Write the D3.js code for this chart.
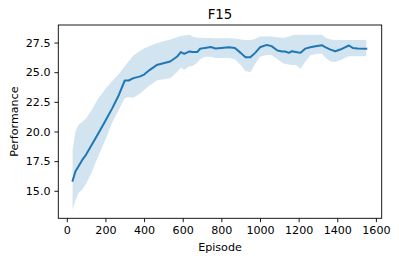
<!DOCTYPE html>
<html><head><meta charset="utf-8">
<script src="https://cdn.jsdelivr.net/npm/d3@7"></script>
<style>body{margin:0;background:#fff}svg{display:block}</style>
</head><body>
<svg id="chart" width="399" height="262"></svg>
<script>
const episodes = [30,45,60,80,100,130,160,200,235,270,300,320,345,380,400,430,465,500,535,570,590,608,635,650,675,690,715,745,770,800,840,870,900,925,950,975,1000,1035,1060,1090,1115,1130,1150,1165,1185,1210,1235,1260,1295,1320,1340,1365,1390,1415,1440,1460,1480,1505,1550];
const meanPerf = [15.85,16.65,17.05,17.6,18.05,18.9,19.75,20.9,21.95,23.1,24.3,24.3,24.5,24.65,24.8,25.2,25.6,25.75,25.9,26.3,26.7,26.55,26.75,26.7,26.7,26.98,27.05,27.12,27.0,27.05,27.1,27.05,26.63,26.26,26.26,26.63,27.1,27.3,27.2,26.83,26.75,26.75,26.63,26.77,26.71,26.63,26.99,27.1,27.2,27.28,27.1,26.9,26.77,26.91,27.1,27.25,27.05,26.99,26.97];
const lowerPerf = [13.4,14.2,14.8,15.1,15.6,16.6,17.8,19.3,20.75,21.85,22.8,22.9,22.85,23.2,23.5,23.9,24.3,24.4,24.5,25.0,25.4,25.2,25.5,25.5,25.8,26.1,26.3,26.3,26.2,26.2,26.2,26.1,25.6,25.1,25.0,25.7,26.3,26.45,26.45,26.1,25.8,25.7,25.65,25.6,25.6,25.3,25.9,26.4,26.55,26.55,26.2,25.9,25.85,26.0,26.2,26.35,26.35,26.35,26.35];
const upperPerf = [18.4,20.0,20.55,20.8,21.1,21.85,22.7,23.6,24.25,24.85,25.5,25.9,26.4,26.8,27.0,27.2,27.45,27.6,27.75,27.95,28.05,28.1,28.15,28.0,27.9,27.9,27.88,27.88,27.87,27.87,27.87,27.85,27.75,27.72,27.72,27.8,28.0,28.0,28.0,27.95,27.9,27.9,28.0,28.1,28.15,28.15,28.15,28.15,28.15,28.15,27.9,27.75,27.72,27.72,27.72,27.72,27.72,27.72,27.72];
const xTicks = [0,200,400,600,800,1000,1200,1400,1600];
const yTicks = [15.0,17.5,20.0,22.5,25.0,27.5];
const title = "F15", xLabel = "Episode", yLabel = "Performance";

const data = episodes.map((e,i)=>({x:e, m:meanPerf[i], lo:lowerPerf[i], hi:upperPerf[i]}));
const svg = d3.select("#chart");
const L = 58.3, R = 381.7, T = 25, B = 218.3;
const x = d3.scaleLinear().domain([-44, 1630]).range([L, R]);
const y = d3.scaleLinear().domain([12.68, 28.98]).range([B, T]);
const font = "DejaVu Sans, sans-serif";

svg.append("path").datum(data)
  .attr("d", d3.area().x(d=>x(d.x)).y0(d=>y(d.lo)).y1(d=>y(d.hi)))
  .attr("fill", "#1f77b4").attr("fill-opacity", 0.2);
svg.append("path").datum(data)
  .attr("d", d3.line().x(d=>x(d.x)).y(d=>y(d.m)))
  .attr("fill", "none").attr("stroke", "#1f77b4").attr("stroke-width", 2).attr("stroke-linejoin","round").attr("stroke-linecap","square");

const xa = svg.append("g").attr("transform", `translate(0,${B})`)
  .call(d3.axisBottom(x).tickValues(xTicks).tickSize(3.9).tickPadding(3.9).tickFormat(d3.format("d")));
const ya = svg.append("g").attr("transform", `translate(${L},0)`)
  .call(d3.axisLeft(y).tickValues(yTicks).tickSize(3.9).tickPadding(3.9).tickFormat(d3.format(".1f")));
[xa, ya].forEach(g=>{
  g.select(".domain").remove();
  g.selectAll("line").attr("stroke","#000").attr("stroke-width",0.9);
  g.selectAll("text").attr("fill","#000").style("font-family",font).style("font-size","11.1px");
});
svg.append("rect").attr("x",L).attr("y",T).attr("width",R-L).attr("height",B-T)
  .attr("fill","none").attr("stroke","#000").attr("stroke-width",0.9);

svg.append("text").attr("x",(L+R)/2).attr("y",19.3).attr("text-anchor","middle")
  .style("font-family",font).style("font-size","13.3px").text(title);
svg.append("text").attr("x",(L+R)/2).attr("y",251).attr("text-anchor","middle")
  .style("font-family",font).style("font-size","11.1px").text(xLabel);
svg.append("text").attr("transform",`translate(17.5,${(T+B)/2}) rotate(-90)`).attr("text-anchor","middle")
  .style("font-family",font).style("font-size","11.1px").text(yLabel);
</script>
</body></html>
